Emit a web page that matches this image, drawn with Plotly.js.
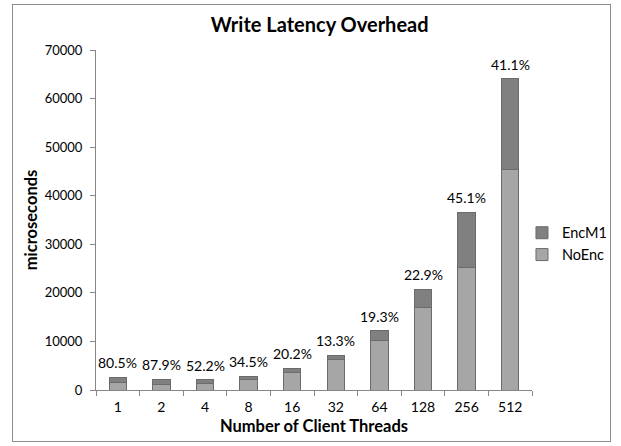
<!DOCTYPE html>
<html>
<head>
<meta charset="utf-8">
<script src="https://cdn.plot.ly/plotly-3.0.1.min.js"></script>
<style>
  html, body { margin: 0; padding: 0; background: #fff; }
  #wrap { position: relative; width: 621px; height: 446px; }
  #chart { width: 621px; height: 446px; }
  #frame { position: absolute; left: 12px; top: 4px; width: 597px; height: 436px; border: 1px solid #8c8c8c; pointer-events: none; }
</style>
</head>
<body>
<div id="wrap">
  <div id="chart"></div>
  <div id="frame"></div>
</div>
<script>
const categories = ["1", "2", "4", "8", "16", "32", "64", "128", "256", "512"];
const noEnc = [1450, 1200, 1400, 2100, 3700, 6300, 10200, 16900, 25200, 45400];
const encM1 = [1170, 1050, 730, 720, 750, 840, 1970, 3870, 11370, 18650];
const pctLabels = ["80.5%", "87.9%", "52.2%", "34.5%", "20.2%", "13.3%", "19.3%", "22.9%", "45.1%", "41.1%"];

const font = "Lato, 'Open Sans', 'DejaVu Sans', sans-serif";
const lineStyle = { color: "#6b6b6b", width: 1 };

const traces = [
  { type: "bar", name: "NoEnc", x: categories, y: noEnc, marker: { color: "#a6a6a6", line: lineStyle }, hoverinfo: "y" },
  { type: "bar", name: "EncM1", x: categories, y: encM1, marker: { color: "#808080", line: lineStyle }, hoverinfo: "y" }
];

const annotations = categories.map((c, i) => ({
  x: i, xref: "x", yref: "y", y: noEnc[i] + encM1[i], text: pctLabels[i], showarrow: false,
  yanchor: "bottom", yshift: 4, font: { family: font, size: 14, color: "#000" }
}));

const layout = {
  width: 621, height: 446,
  margin: { l: 96, r: 89, t: 50, b: 56, autoexpand: false },
  paper_bgcolor: "#fff", plot_bgcolor: "#fff",
  barmode: "stack", bargap: 0.6,
  showlegend: true,
  legend: { x: 0.977, y: 0.43, xanchor: "left", yanchor: "middle", itemwidth: 30, font: { family: font, size: 14.5, color: "#000" }, bgcolor: "rgba(0,0,0,0)" },
  title: { text: "<b>Write Latency Overhead</b>", x: 0.513, xref: "paper", xanchor: "center", y: 0.944, yref: "container", yanchor: "middle", font: { family: font, size: 20, color: "#000" } },
  xaxis: {
    type: "category", categoryorder: "array", categoryarray: categories,
    range: [-0.5, categories.length - 0.5], autorange: false,
    showline: true, linecolor: "#868686", linewidth: 1,
    ticks: "outside", tickson: "boundaries", ticklen: 5, tickcolor: "#868686",
    tickangle: 0, ticklabelstandoff: 4,
    tickfont: { family: font, size: 14, color: "#000" },
    title: { text: "<b>Number of Client Threads</b>", font: { family: font, size: 16.5, color: "#000" }, standoff: 6 },
    showgrid: false, fixedrange: true
  },
  yaxis: {
    range: [0, 70000], autorange: false, dtick: 10000, showline: true, linecolor: "#868686", linewidth: 1,
    ticks: "outside", ticklen: 5, tickcolor: "#868686", ticklabelstandoff: 5,
    tickfont: { family: font, size: 13, color: "#000" },
    title: { text: "<b>microseconds</b>", font: { family: font, size: 16.5, color: "#000" }, standoff: 2 },
    showgrid: false, zeroline: false, fixedrange: true, tickformat: "d"
  },
  annotations: annotations
};

Plotly.newPlot("chart", traces, layout, { displayModeBar: false, staticPlot: true });
</script>
</body>
</html>
